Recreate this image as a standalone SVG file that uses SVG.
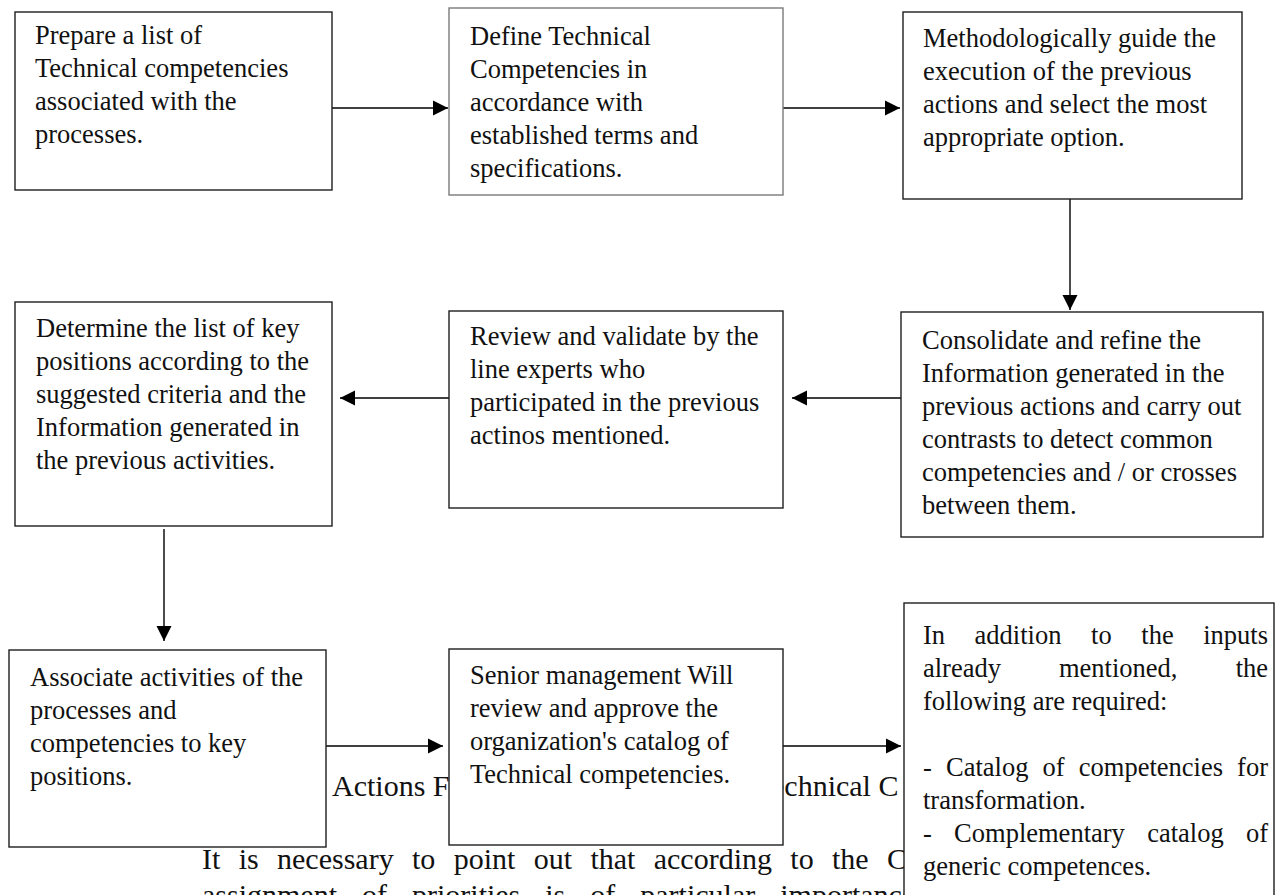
<svg xmlns="http://www.w3.org/2000/svg" width="1277" height="895" viewBox="0 0 1277 895">
<style>
.bg{font-family:"Liberation Serif","Times New Roman",serif;font-size:30px;fill:#111}
.t{font-family:"Liberation Serif","Times New Roman",serif;font-size:26.5px;fill:#111}
.box{fill:#fff;stroke:#1e1e1e;stroke-width:1.4}
.lite{stroke:#7a7a7a}
.con{stroke:#000;stroke-width:1.4;fill:none}
</style>
<defs>
<marker id="ah" markerUnits="userSpaceOnUse" markerWidth="16" markerHeight="16" viewBox="0 0 16 16" refX="15" refY="8" orient="auto">
<path d="M0,0.5 L15,8 L0,15.5 Z" fill="#000"/>
</marker>
</defs>
<rect width="1277" height="895" fill="#fff"/>

<g id="background-text">
<text class="bg" x="332" y="796">Actions F</text>
<text class="bg" x="771" y="796">echnical C</text>
<text class="bg" x="202" y="869" style="word-spacing:10.85px">It is necessary to point out that according to the C</text>
<text class="bg" x="202" y="905" style="word-spacing:17.5px">assignment of priorities is of particular importance</text>
</g>

<g id="connectors">
<line class="con" x1="332" y1="108" x2="448" y2="108" marker-end="url(#ah)"/>
<line class="con" x1="783" y1="108" x2="900" y2="108" marker-end="url(#ah)"/>
<line class="con" x1="1070" y1="199" x2="1070" y2="310" marker-end="url(#ah)"/>
<line class="con" x1="901" y1="398" x2="792" y2="398" marker-end="url(#ah)"/>
<line class="con" x1="449" y1="398" x2="340" y2="398" marker-end="url(#ah)"/>
<line class="con" x1="164" y1="529" x2="164" y2="641" marker-end="url(#ah)"/>
<line class="con" x1="326" y1="746" x2="443" y2="746" marker-end="url(#ah)"/>
<line class="con" x1="783" y1="746" x2="901" y2="746" marker-end="url(#ah)"/>
</g>

<g id="node1">
<rect class="box" x="15" y="12" width="317" height="178"/>
<text class="t" x="35" y="44">Prepare a list of</text>
<text class="t" x="35" y="77">Technical competencies</text>
<text class="t" x="35" y="110">associated with the</text>
<text class="t" x="35" y="143">processes.</text>
</g>

<g id="node2">
<rect class="box lite" x="449" y="8" width="334" height="187"/>
<text class="t" x="470" y="45">Define Technical</text>
<text class="t" x="470" y="78">Competencies in</text>
<text class="t" x="470" y="111">accordance with</text>
<text class="t" x="470" y="144">established terms and</text>
<text class="t" x="470" y="177">specifications.</text>
</g>

<g id="node3">
<rect class="box" x="903" y="12" width="339" height="187"/>
<text class="t" x="923" y="47">Methodologically guide the</text>
<text class="t" x="923" y="80">execution of the previous</text>
<text class="t" x="923" y="113">actions and select the most</text>
<text class="t" x="923" y="146">appropriate option.</text>
</g>

<g id="node4">
<rect class="box" x="901" y="312" width="362" height="225"/>
<text class="t" x="922" y="349">Consolidate and refine the</text>
<text class="t" x="922" y="382">Information generated in the</text>
<text class="t" x="922" y="415">previous actions and carry out</text>
<text class="t" x="922" y="448">contrasts to detect common</text>
<text class="t" x="922" y="481">competencies and / or crosses</text>
<text class="t" x="922" y="514">between them.</text>
</g>

<g id="node5">
<rect class="box" x="449" y="311" width="334" height="197"/>
<text class="t" x="470" y="345">Review and validate by the</text>
<text class="t" x="470" y="378">line experts who</text>
<text class="t" x="470" y="411">participated in the previous</text>
<text class="t" x="470" y="444">actinos mentioned.</text>
</g>

<g id="node6">
<rect class="box" x="15" y="302" width="317" height="224"/>
<text class="t" x="36" y="337">Determine the list of key</text>
<text class="t" x="36" y="370">positions according to the</text>
<text class="t" x="36" y="403">suggested criteria and the</text>
<text class="t" x="36" y="436">Information generated in</text>
<text class="t" x="36" y="469">the previous activities.</text>
</g>

<g id="node7">
<rect class="box" x="9" y="650" width="317" height="197"/>
<text class="t" x="30" y="686">Associate activities of the</text>
<text class="t" x="30" y="719">processes and</text>
<text class="t" x="30" y="752">competencies to key</text>
<text class="t" x="30" y="785">positions.</text>
</g>

<g id="node8">
<rect class="box" x="449" y="649" width="334" height="196"/>
<text class="t" x="470" y="684">Senior management Will</text>
<text class="t" x="470" y="717">review and approve the</text>
<text class="t" x="470" y="750">organization's catalog of</text>
<text class="t" x="470" y="783">Technical competencies.</text>
</g>

<g id="node9">
<rect class="box" x="904" y="603" width="370" height="310"/>
<text class="t" y="644"><tspan x="923">In</tspan><tspan x="974.6">addition</tspan><tspan x="1091.1">to</tspan><tspan x="1141.3">the</tspan><tspan x="1268" text-anchor="end">inputs</tspan></text>
<text class="t" y="677"><tspan x="923">already</tspan><tspan x="1059">mentioned,</tspan><tspan x="1268" text-anchor="end">the</tspan></text>
<text class="t" x="923" y="710">following are required:</text>
<text class="t" y="776"><tspan x="923">-</tspan><tspan x="946">Catalog</tspan><tspan x="1042.5">of</tspan><tspan x="1078.8">competencies</tspan><tspan x="1268" text-anchor="end">for</tspan></text>
<text class="t" x="923" y="809">transformation.</text>
<text class="t" y="842"><tspan x="923">-</tspan><tspan x="954.1">Complementary</tspan><tspan x="1147.2">catalog</tspan><tspan x="1268" text-anchor="end">of</tspan></text>
<text class="t" x="923" y="875">generic competences.</text>
</g>
</svg>
